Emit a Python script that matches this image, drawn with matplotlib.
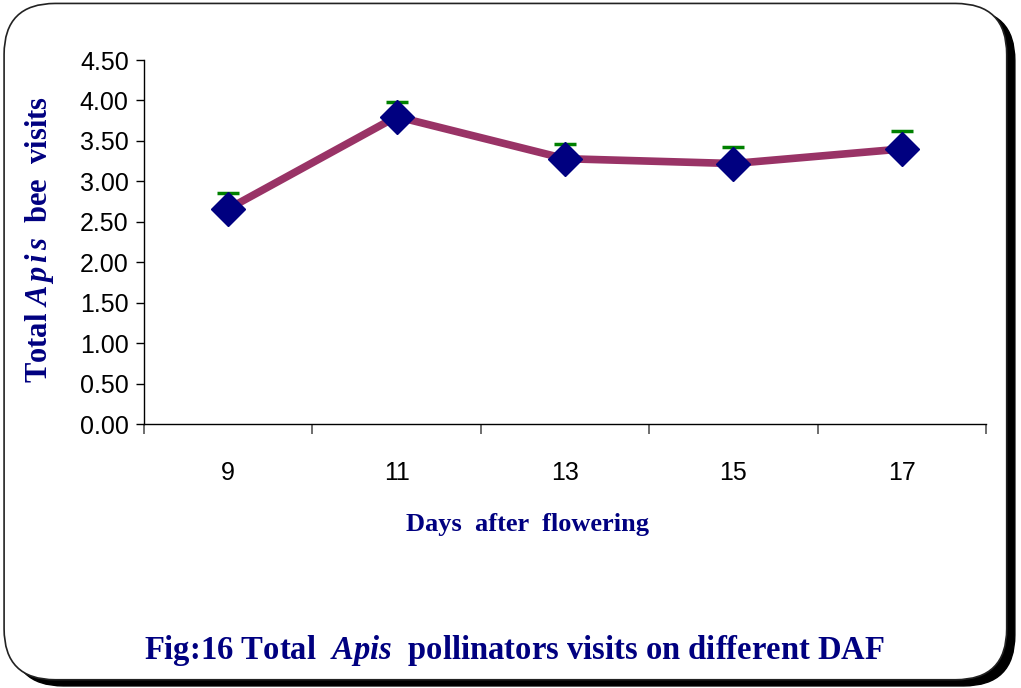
import matplotlib.pyplot as plt
from matplotlib.patches import FancyBboxPatch
import numpy as np

plt.rcParams['mathtext.fontset'] = 'custom'
plt.rcParams['mathtext.it'] = 'Liberation Serif:italic:bold'
plt.rcParams['mathtext.rm'] = 'Liberation Serif:bold'

days = ['9', '11', '13', '15', '17']
visits = [2.66, 3.80, 3.28, 3.22, 3.40]
upper_err = [0.19, 0.18, 0.18, 0.20, 0.22]
yticks = [0.0, 0.5, 1.0, 1.5, 2.0, 2.5, 3.0, 3.5, 4.0, 4.5]

navy = '#000080'

fig = plt.figure(figsize=(10.21, 6.88), dpi=100)

# rounded frame with shadow
shadow = FancyBboxPatch((0.012, 0.003), 0.982, 0.983, boxstyle='round,pad=0,rounding_size=0.05',
                        transform=fig.transFigure, facecolor='black', edgecolor='black',
                        mutation_aspect=1.48, zorder=-2)
frame = FancyBboxPatch((0.004, 0.012), 0.982, 0.983, boxstyle='round,pad=0,rounding_size=0.05',
                       transform=fig.transFigure, facecolor='white', edgecolor='#222222',
                       linewidth=1.2, mutation_aspect=1.48, zorder=-1)
fig.patches.extend([shadow, frame])

ax = fig.add_axes([144 / 1021, 1 - 424 / 688, (986 - 144) / 1021, (424 - 60) / 688])
ax.set_facecolor('none')
ax.set_zorder(2)

x = np.arange(len(days)) + 0.5
ax.errorbar(x, visits, yerr=[np.zeros(len(days)), upper_err], fmt='none',
            ecolor='green', elinewidth=1.5, capsize=8, capthick=2.5, zorder=2)
ax.plot(x, visits, color='#993366', linewidth=5.5, zorder=3)
ax.plot(x, visits, linestyle='none', marker='D', markersize=17,
        markerfacecolor=navy, markeredgecolor=navy, zorder=4)

ax.set_xlim(0, len(days))
ax.set_ylim(0, 4.5)
ax.set_yticks(yticks)
ax.set_yticklabels([f'{v:.2f}' for v in yticks], fontfamily='Liberation Sans', fontsize=18)
ax.set_xticks(np.arange(len(days) + 1))
ax.set_xticklabels([])
ax.set_xticks(x, minor=True)
ax.set_xticklabels(days, minor=True, fontfamily='Liberation Sans', fontsize=18)
ax.tick_params(axis='x', which='minor', length=0, pad=27)
ax.tick_params(axis='x', which='major', direction='out', length=7, width=1.2, color='#555555')
ax.tick_params(axis='y', direction='out', length=6, width=1, pad=5)

for s in ['top', 'right']:
    ax.spines[s].set_visible(False)
for s in ['left', 'bottom']:
    ax.spines[s].set_linewidth(1)

serif = {'fontfamily': 'Liberation Serif', 'fontweight': 'bold', 'color': navy}
fig.text(528 / 1021, 1 - 525 / 688, 'Days  after  flowering', ha='center', va='center',
         fontsize=19, **serif)
fig.text(40 / 1021, 1 - 240 / 688, r'Total $\it{A\,p\,i\,s}$  bee  visits', rotation=90,
         ha='center', va='center', fontsize=22, **serif)
fig.text(514 / 1021, 1 - 650 / 688, r'Fig:16 Total  $\it{Apis}$  pollinators visits on different DAF',
         ha='center', va='center', fontsize=23.5, **serif)

fig.savefig('out.png', dpi=100)
